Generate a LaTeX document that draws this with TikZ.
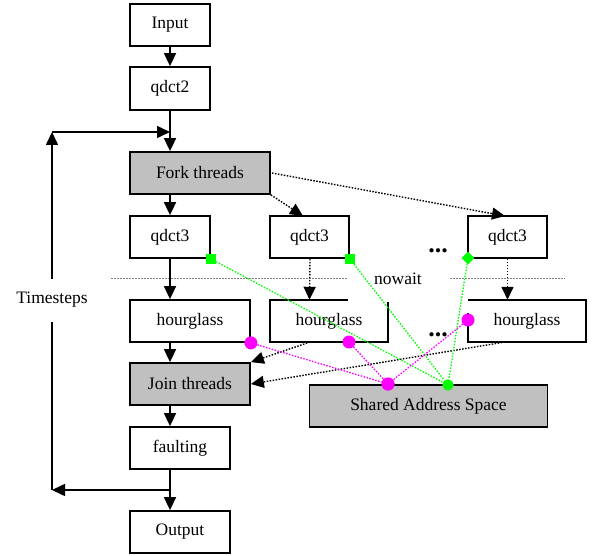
\documentclass[tikz,border=0pt]{standalone}
\usepackage{fontspec}
\setmainfont{Liberation Serif}
\usetikzlibrary{arrows.meta,shapes.geometric}
\definecolor{boxgray}{RGB}{192,192,192}
\definecolor{mag}{RGB}{255,0,255}
\definecolor{grn}{RGB}{0,255,0}
\tikzset{
  box/.style={draw=black,line width=1.8pt,fill=white,inner sep=0pt,minimum height=42pt,font=\fontsize{17.5}{20}\selectfont},
  graybox/.style={box,fill=boxgray},
  bare/.style={inner sep=0pt,minimum height=42pt,font=\fontsize{17.5}{20}\selectfont},
  arr/.style={line width=1.6pt,-{Triangle[length=13pt,width=12pt]}},
  darr/.style={line width=1.4pt,dash pattern=on 1.5pt off 1.5pt,-{Triangle[length=13pt,width=12pt]}},
  sep/.style={line width=1pt,gray,dash pattern=on 1.5pt off 1.5pt},
  mline/.style={line width=1.3pt,mag,dash pattern=on 1.5pt off 1.5pt},
  gline/.style={line width=1.3pt,grn,dash pattern=on 1.5pt off 1.5pt},
  mdot/.style={circle,fill=mag,inner sep=0pt,minimum size=13pt},
  gsq/.style={rectangle,fill=grn,inner sep=0pt,minimum size=10pt},
  gdia/.style={diamond,fill=grn,inner sep=0pt,minimum size=13pt},
  gdot/.style={circle,fill=grn,inner sep=0pt,minimum size=11pt},
  lbl/.style={inner sep=0pt,font=\fontsize{17.5}{20}\selectfont},
  ell/.style={inner sep=0pt,font=\fontsize{26}{26}\selectfont\bfseries},
}
\begin{document}
\begin{tikzpicture}[x=1pt,y=-1pt]
\useasboundingbox (0,0) rectangle (592,556);
% nodes
\node[box,minimum width=80pt] (input) at (170,25) {Input};
\node[box,minimum width=80pt,minimum height=43pt] (qdct2) at (170,88.5) {qdct2};
\node[graybox,minimum width=140pt] (fork) at (200,173) {Fork threads};
\node[box,minimum width=80pt] (qA) at (170,237) {qdct3};
\node[box,minimum width=79pt] (qB) at (309.5,237) {qdct3};
\node[box,minimum width=79pt] (qC) at (507.5,237) {qdct3};
\node[box,minimum width=120pt] (hA) at (190,321) {hourglass};
\node[bare,minimum width=118pt] (hB) at (329,321) {hourglass};
\draw[line width=1.8pt] (348,300) -- (270,300) -- (270,342) -- (388,342) -- (388,302);
\node[bare,minimum width=118pt] (hC) at (527,321) {hourglass};
\draw[line width=1.8pt] (468,313) -- (468,342) -- (586,342) -- (586,300) -- (468,300);
\node[graybox,minimum width=120pt] (join) at (190,384) {Join threads};
\node[graybox,minimum width=238pt] (sas) at (428.5,406) {Shared Address Space};
\node[box,minimum width=100pt] (fault) at (180,448) {faulting};
\node[box,minimum width=100pt] (output) at (180,532) {Output};
\node[lbl] (ts) at (52,300) {Timesteps};
\node[lbl] (nowait) at (398,279) {nowait};
\node[ell] (dots1) at (438,251) {...};
\node[ell] (dots2) at (438,335) {...};
% coordinates
\coordinate (ltop) at (52,132);
\coordinate (lbot) at (52,490);
\coordinate (tsN) at (52,279);
\coordinate (tsS) at (52,322);
\coordinate (spine) at (170,0);
% separators
\draw[sep] (111,279) -- (348,279);
\draw[sep] (450,279) -- (565,279);
% main spine
\draw[arr] (input.south -| spine) -- (qdct2.north -| spine);
\draw[arr] (qdct2.south -| spine) -- (fork.north -| spine);
\draw[arr] (fork.south -| spine) -- (qA.north -| spine);
\draw[arr] (qA.south -| spine) -- (hA.north -| spine);
\draw[arr] (hA.south -| spine) -- (join.north -| spine);
\draw[arr] (join.south -| spine) -- (fault.north -| spine);
\draw[arr] (fault.south -| spine) -- (output.north -| spine);
% loop
\draw[arr] (tsN) -- (ltop);
\draw[arr] (ltop) -- (ltop -| spine);
\draw[arr] (lbot -| spine) -- (lbot);
\draw[line width=1.6pt] (lbot) -- (tsS);
% fork dotted
\draw[darr] (fork.south east) -- (303,216);
\draw[darr] (272,173) -- (505,216);
\draw[darr] (qB.south) ++(0.5,0) -- (hB.north -| qB.south);
\draw[darr] (qC.south) -- (hC.north -| qC.south);
\draw[darr] (310,342) -- (join.north east);
\draw[darr] (505,342) -- (join.east);
% green lines and markers
\node[gdot] (g0) at (448,385) {};
\node[gsq] (g1) at (qA.south east) {};
\node[gsq] (g2) at (qB.south east) {};
\node[gdia] (g3) at (468,258) {};
\draw[gline] (g1) -- (g0);
\draw[gline] (g2) -- (g0);
\draw[gline] (g3) -- (g0);
% magenta
\node[mdot] (m0) at (388,384) {};
\node[mdot] (m1) at (hA.south east) {};
\node[mdot] (m2) at (349,342) {};
\node[mdot] (m3) at (468,320) {};
\draw[mline] (m1) -- (m0);
\draw[mline] (m2) -- (m0);
\draw[mline] (m3) -- (m0);
\node[mdot] at (m0) {};
\node[gdot] at (g0) {};
\end{tikzpicture}
\end{document}
